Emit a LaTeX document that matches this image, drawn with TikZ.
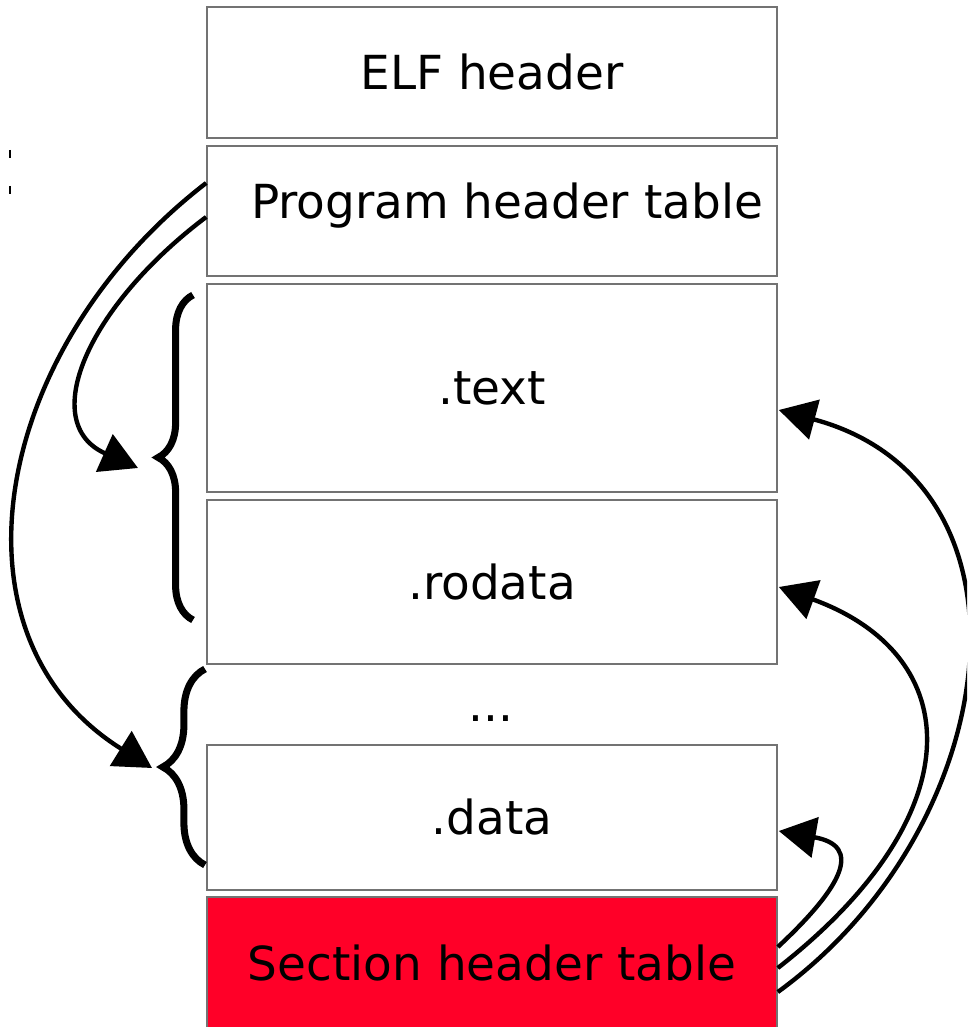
\documentclass[tikz,border=0pt]{standalone}
\usepackage{fontspec}
\setmainfont{DejaVu Sans}
\usetikzlibrary{arrows.meta,calc,decorations.pathreplacing}

\definecolor{section red}{RGB}{255,0,40}
\tikzstyle{region}=[draw=black!55, line width=1pt, fill=white, inner sep=0pt, minimum width=11.4cm, font=\fontsize{26.7}{32}\selectfont]
\tikzstyle{pointer}=[line width=2.5pt, -{Triangle[length=21pt, width=23pt]}]
\tikzstyle{grouping}=[decorate, line width=4pt]

\begin{document}
\begin{tikzpicture}[x=0.02cm, y=0.02cm]
				\useasboundingbox (0,0) rectangle (967,-1027);
				\clip (0,0) rectangle (967,-1027);

				% Layout of the file
				\node[region, minimum height=2.62cm] (elf) at (492,-72.5) {ELF header};
				\node[region, minimum height=2.6cm] (pht) at (492,-211) {};
				\node[font=\fontsize{26.7}{32}\selectfont, inner sep=0pt] (phtlabel) at (507,-206) {Program header table};
				\node[region, minimum height=4.16cm] (text) at (492,-388) {.text};
				\node[region, minimum height=3.28cm] (rodata) at (492,-582) {.rodata};
				\node[font=\fontsize{26.7}{32}\selectfont, inner sep=0pt] (dots) at (491,-719) {...};
				\node[region, minimum height=2.9cm] (data) at (492,-817.5) {.data};
				\node[region, fill=section red, minimum height=2.66cm] (sht) at (492,-963.5) {Section header table};

				\foreach \y in {150, 186}{ \draw[line width=1.5pt] (10,-\y) -- (10,{-\y-8}); }

				% Segments
				\draw[grouping, decoration={brace, amplitude=19.8pt}] (193,-620) -- (193,-295);
				\draw[grouping, decoration={brace, amplitude=24pt}] (205,-865) -- (205,-669);

				\coordinate (codeseg) at (138,-468);
				\coordinate (dataseg) at (152,-768);

				\draw[pointer] ($(pht.west)+(0,-6)$) .. controls +(217:150) and +(156:110) .. (codeseg);
				\draw[pointer] ($(pht.west)+(0,28)$) .. controls +(217.6:270) and +(148:250) .. (dataseg);

				% Sections
				\draw[pointer] ($(sht.east)+(0,-28.5)$) .. controls +(36:280) and +(-15:280) .. ($(text.east)+(1,-22)$);
				\draw[pointer] ($(sht.east)+(0,-4.5)$) .. controls +(38:250) and +(-20:200) .. ($(rodata.east)+(1,-5)$);
				\draw[pointer] ($(sht.east)+(0,16.5)$) .. controls +(43:90) and +(-10:85) .. ($(data.east)+(1,-13.5)$);
			\end{tikzpicture}
\end{document}
